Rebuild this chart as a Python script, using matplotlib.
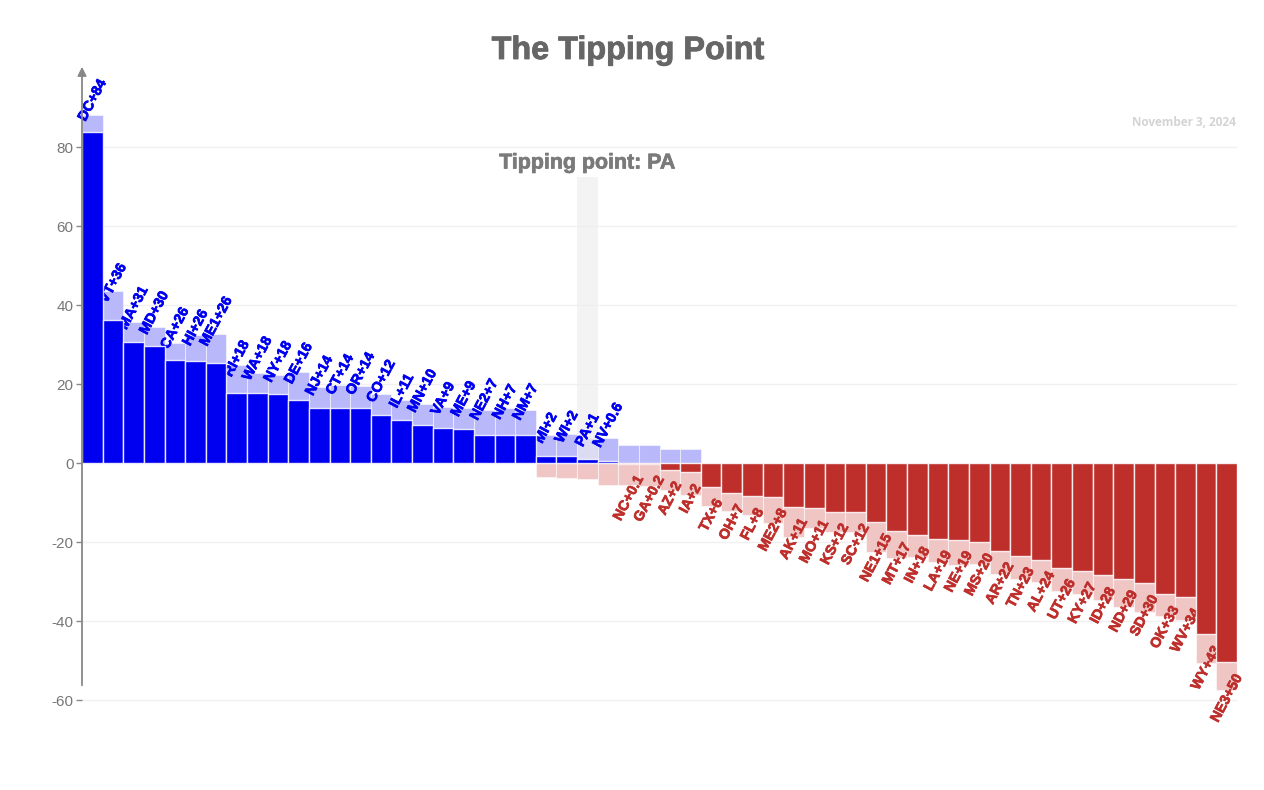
import matplotlib
matplotlib.use("Agg")
import matplotlib.pyplot as plt
from matplotlib.patches import Rectangle
import matplotlib.patheffects as pe
import numpy as np

# ---------------- data ----------------
states = ["DC", "VT", "MA", "MD", "CA", "HI", "ME1", "RI", "WA", "NY", "DE", "NJ", "CT", "OR",
          "CO", "IL", "MN", "VA", "ME", "NE2", "NH", "NM", "MI", "WI", "PA", "NV",
          "NC", "GA", "AZ", "IA", "TX", "OH", "FL", "ME2", "AK", "MO", "KS", "SC", "NE1",
          "MT", "IN", "LA", "NE", "MS", "AR", "TN", "AL", "UT", "KY", "ID", "ND", "SD",
          "OK", "WV", "WY", "NE3"]

# margin (positive = Dem, negative = Rep)
margin = [84.0, 36.4, 30.8, 29.6, 26.2, 26.0, 25.5, 17.9, 17.9, 17.6, 16.1, 14.0, 13.9, 13.9,
          12.2, 10.9, 9.6, 9.0, 8.6, 7.2, 7.2, 7.2, 1.8, 1.8, 1.0, 0.6,
          -0.1, -0.2, -1.7, -2.3, -6.1, -7.5, -8.4, -8.5, -11.0, -11.4, -12.3, -12.4, -14.9,
          -17.2, -18.2, -19.2, -19.3, -19.8, -22.1, -23.4, -24.4, -26.4, -27.2, -28.4, -29.2, -30.4,
          -33.2, -33.8, -43.3, -50.4]

# upper end of the range (light blue)
upper = [88.1, 43.6, 35.8, 34.5, 30.5, 32.4, 32.7, 24.8, 22.9, 22.3, 23.0, 19.2, 19.7, 19.6,
         17.5, 16.0, 15.0, 14.2, 13.9, 13.5, 13.9, 13.5, 7.2, 7.4, 6.3, 6.3,
         4.6, 4.6, 3.6, 3.6, -2.0, -3.0, -3.5, -3.0, -5.0, -6.0, -6.5, -7.0, -8.0,
         -10.0, -12.0, -13.0, -13.0, -14.0, -16.0, -17.0, -18.0, -20.0, -21.0, -22.0, -23.0, -24.0,
         -27.0, -28.0, -36.0, -43.0]

# lower end of the range (light red)
lower = [80.0, 30.0, 26.0, 25.0, 22.0, 20.0, 19.0, 12.0, 13.0, 13.0, 10.0, 9.0, 8.0, 8.0,
         7.0, 6.0, 5.0, 4.0, 4.0, 1.5, 1.0, 1.0, -3.4, -3.6, -4.0, -5.5,
         -5.6, -5.8, -6.8, -8.1, -10.8, -12.2, -13.1, -15.2, -18.6, -16.5, -17.3, -17.3, -22.4,
         -24.1, -23.6, -24.9, -25.8, -25.4, -27.9, -29.2, -30.0, -32.3, -33.0, -34.7, -36.4, -37.6,
         -38.7, -39.7, -50.5, -57.3]

labels = ["DC+84", "VT+36", "MA+31", "MD+30", "CA+26", "HI+26", "ME1+26", "RI+18", "WA+18",
          "NY+18", "DE+16", "NJ+14", "CT+14", "OR+14", "CO+12", "IL+11", "MN+10", "VA+9",
          "ME+9", "NE2+7", "NH+7", "NM+7", "MI+2", "WI+2", "PA+1", "NV+0.6",
          "NC+0.1", "GA+0.2", "AZ+2", "IA+2", "TX+6", "OH+7", "FL+8", "ME2+8", "AK+11",
          "MO+11", "KS+12", "SC+12", "NE1+15", "MT+17", "IN+18", "LA+19", "NE+19", "MS+20",
          "AR+22", "TN+23", "AL+24", "UT+26", "KY+27", "ID+28", "ND+29", "SD+30", "OK+33",
          "WV+34", "WY+43", "NE3+50"]

tipping_state = "PA"
yticks = [-60, -40, -20, 0, 20, 40, 60, 80]

# ---------------- styling ----------------
BLUE = "#0000f0"
RED = "#be2f2c"
LIGHT_BLUE = "#b8b8fb"
LIGHT_RED = "#f0c6c5"
GREY_TXT = "#666666"

plt.rcParams["font.family"] = ["Liberation Sans", "DejaVu Sans"]

fig = plt.figure(figsize=(12.64, 7.90), dpi=100)
ax = fig.add_axes([82 / 1264, 1 - 730 / 790, (1237 - 82) / 1264, (730 - 66) / 790])

x = np.arange(len(states))
m = np.array(margin)
up = np.array(upper)
lo = np.array(lower)

PX = 3.95  # pixels per data unit (for offsets)
y0 = (463.3 - 730) / PX
y1 = (463.3 - 66) / PX
ax.set_xlim(-0.5, len(states) - 0.5)
ax.set_ylim(y0, y1)

# light range bars
ax.bar(x, np.clip(up, 0, None), width=1.0, color=LIGHT_BLUE,
       edgecolor=(1, 1, 1, 0.5), linewidth=0.8, zorder=2)
ax.bar(x, np.clip(lo, None, 0), width=1.0, color=LIGHT_RED,
       edgecolor=(1, 1, 1, 0.5), linewidth=0.8, zorder=2)

# tipping point highlight
ti = states.index(tipping_state)
ax.bar([ti], [72.5], width=1.0, color="#eeeeee", alpha=0.65, linewidth=0, zorder=3)
ax.text(ti, 72.5 + 8.4 / PX, f"Tipping point: {tipping_state}", ha="center", va="baseline",
        fontsize=15.4, fontweight="bold", color="#7a7a7a", zorder=6,
        path_effects=[pe.withStroke(linewidth=0.5, foreground="#7a7a7a")])

# label clip region (open to the left of the axis, closed at right / bottom)
clip_rect = Rectangle((-0.03, 0.0), 1.03, 1.0, transform=ax.transAxes)

for i in range(len(states)):
    if m[i] >= 0:
        col = BLUE
        yl = (m[i] + max(up[i], m[i])) / 2
        t = ax.text(i, yl, labels[i], rotation=62, ha="center", va="bottom",
                    fontsize=10.3, fontweight="bold", color=col, zorder=4)
    else:
        col = RED
        yl = m[i] - 9.5 / PX
        t = ax.text(i, yl, labels[i], rotation=62, ha="center", va="top",
                    fontsize=10.3, fontweight="bold", color=col, zorder=4)
    t.set_path_effects([pe.withStroke(linewidth=0.5, foreground=col)])
    t.set_clip_path(clip_rect)

# main bars
colors = [BLUE if v >= 0 else RED for v in m]
ax.bar(x, m, width=1.0, color=colors, edgecolor=(1, 1, 1, 0.85), linewidth=1.0, zorder=5)

# axes styling
for s in ax.spines.values():
    s.set_visible(False)
ax.set_xticks([])
ax.set_yticks(yticks)
ax.set_yticklabels([str(t) for t in yticks])
ax.tick_params(axis="y", length=4, width=1, color="#888888", labelcolor="#777777",
               labelsize=11, pad=2)
ax.yaxis.grid(True, color="#f0f0f0", linewidth=1)
ax.set_axisbelow(True)

# y axis line with arrow
ax.annotate("", xy=(-0.5, y1 - 0.2), xytext=(-0.5, -56.2),
            arrowprops=dict(arrowstyle="-|>", color="#888888", lw=1.3, mutation_scale=13,
                            shrinkA=0, shrinkB=0),
            annotation_clip=False, zorder=7)

# title and date
fig.text(628 / 1264, 1 - 51 / 790, "The Tipping Point", ha="center", va="center",
         fontsize=23.3, fontweight="bold", color=GREY_TXT,
         path_effects=[pe.withStroke(linewidth=0.6, foreground=GREY_TXT)])
fig.text(1236 / 1264, 1 - 122 / 790, "November 3, 2024", ha="right", va="center",
         fontsize=8.5, fontweight="bold", color="#d4d4d4", family=["Open Sans", "DejaVu Sans"])

fig.savefig("out.png", dpi=100, facecolor="white")
